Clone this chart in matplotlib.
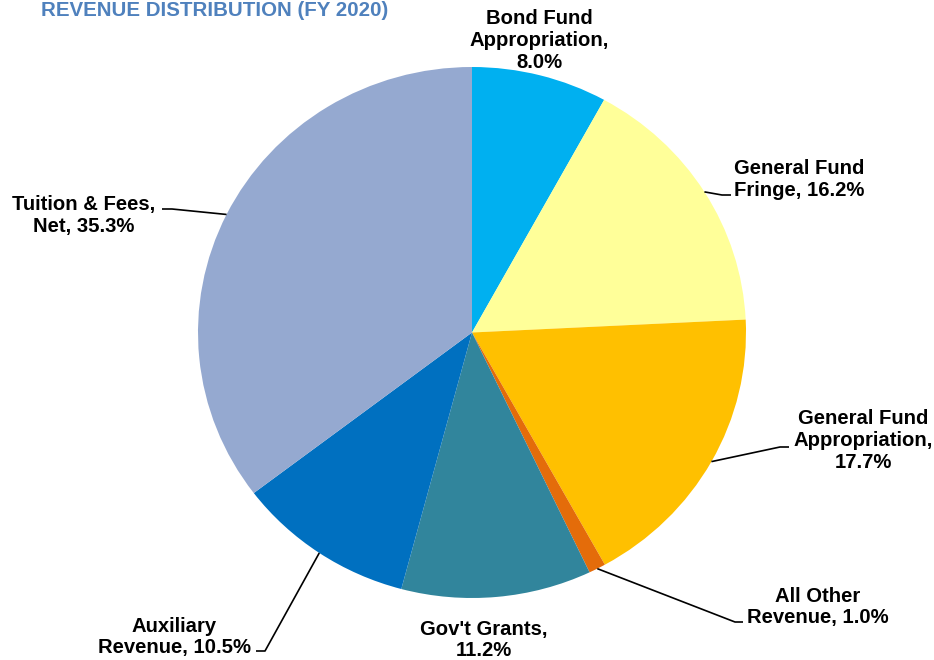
import matplotlib
matplotlib.use("Agg")
import matplotlib.pyplot as plt
import numpy as np

# ---------------- data ----------------
categories = ["Bond Fund Appropriation", "General Fund Fringe", "General Fund Appropriation",
              "All Other Revenue", "Gov't Grants", "Auxiliary Revenue", "Tuition & Fees, Net"]
values = [8.0, 16.2, 17.7, 1.0, 11.2, 10.5, 35.3]
label_lines = [["Bond Fund", "Appropriation,", "{:.1f}%"],
               ["General Fund", "Fringe, {:.1f}%"],
               ["General Fund", "Appropriation,", "{:.1f}%"],
               ["All Other", "Revenue, {:.1f}%"],
               ["Gov't Grants,", "{:.1f}%"],
               ["Auxiliary", "Revenue, {:.1f}%"],
               ["Tuition & Fees,", "Net, {:.1f}%"]]
colors = ["#00B0F0", "#FFFF99", "#FFC000", "#E46C0A", "#31859C", "#0070C0", "#95A9D0"]
title = "REVENUE DISTRIBUTION (FY 2020)"

# ---------------- layout (pixels) ----------------
W, H = 934, 660
CX, CY, RX, RY = 472, 332.5, 274, 265.5
label_pos = [(539, 40), (799, 179), (863, 441), (818, 607), (484, 640), (174, 637), (84, 215)]
# leader: (elbow, end) in pixel coords, None = no leader
leaders = [None, ((722, 195), (731, 195)), ((780, 447), (789, 447)),
           ((735, 622), (743, 622)), None, ((265, 651), (256, 651)), ((172, 209), (162, 209))]

fig = plt.figure(figsize=(W / 100, H / 100), dpi=100)
ax = fig.add_axes([0, 0, 1, 1])
wedges, _ = ax.pie(values, colors=colors, startangle=90, counterclock=False,
                   radius=1, center=(0, 0), wedgeprops=dict(linewidth=0))
ax.set_aspect("auto")
ax.set_xlim(-CX / RX, (W - CX) / RX)
ax.set_ylim(-(H - CY) / RY, CY / RY)
ax.axis("off")


def px(x, y):
    return ((x - CX) / RX, (CY - y) / RY)


font = dict(family=["Liberation Sans", "DejaVu Sans"], weight="bold", size=14.6)
for i, w in enumerate(wedges):
    txt = "\n".join(l.format(values[i]) if "{" in l else l for l in label_lines[i])
    ax.text(*px(*label_pos[i]), txt, ha="center", va="center", linespacing=1.2,
            color="black", **font, zorder=5)
    if leaders[i] is not None:
        mid = np.deg2rad((w.theta1 + w.theta2) / 2)
        ex, ey = np.cos(mid), np.sin(mid)
        (bx, by), (tx, ty) = leaders[i]
        b = px(bx, by)
        t = px(tx, ty)
        ax.plot([ex, b[0], t[0]], [ey, b[1], t[1]], color="black", lw=1.2,
                solid_capstyle="butt", zorder=4)

fig.text(41 / W, 1 - 10 / H, title, ha="left", va="center", color="#4F81BD",
         family=["Liberation Sans", "DejaVu Sans"], weight="bold", size=14.8)

fig.savefig("out.png", dpi=100, facecolor="white")
